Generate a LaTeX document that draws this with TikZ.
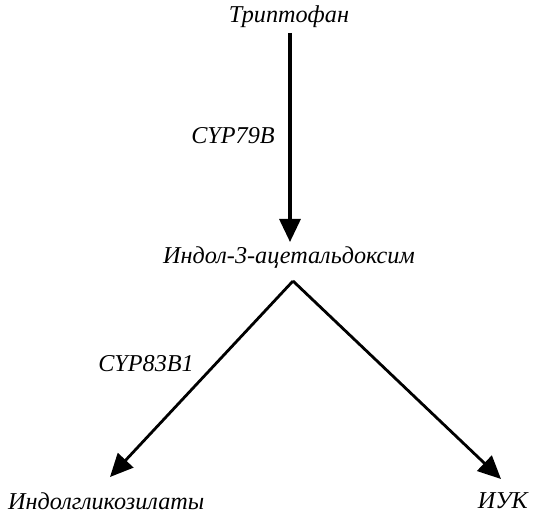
\documentclass[tikz,border=0pt]{standalone}
\usepackage{fontspec}
\setmainfont{Liberation Serif}
\usetikzlibrary{arrows.meta}
\begin{document}
\begin{tikzpicture}[x=1pt,y=-1pt,
  lbl/.style={font=\fontsize{24.2}{27}\selectfont\itshape, inner sep=0pt},
  arr/.style={line width=3.2pt, -{Triangle[length=23pt,width=21pt]}}]
\useasboundingbox[fill=white] (0,0) rectangle (536,518);
\node[lbl] (trp) at (289,17) {Триптофан};
\node[lbl] (iao) at (289,258) {Индол-3-ацетальдоксим};
\node[lbl, anchor=west] (igl) at (8,501) {Индолгликозилаты};
\node[lbl, anchor=east] (iuk) at (528,501) {ИУК};
\coordinate (top) at (290,33);
\coordinate (tip1) at (290,242);
\coordinate (apex) at (293,281);
\coordinate (tipL) at (110,477);
\coordinate (tipR) at (501,479);
\draw[arr] (top) -- (tip1);
\draw[arr, line width=2.8pt] (apex) -- (tipL);
\draw[arr, line width=2.8pt] (apex) -- (tipR);
\node[lbl] (c79) at (233,136) {CYP79B};
\node[lbl] (c83) at (146,364) {CYP83B1};
\end{tikzpicture}
\end{document}
